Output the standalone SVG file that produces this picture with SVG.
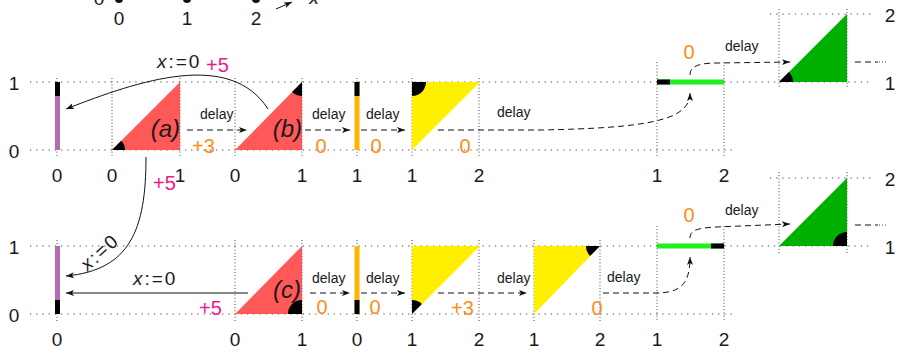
<svg xmlns="http://www.w3.org/2000/svg" width="899" height="347" viewBox="0 0 899 347">
<style>
text{font-family:"Liberation Sans",Arial,sans-serif;fill:#1a1a1a}
.ax{font-size:19px;text-anchor:middle}
.dl{font-size:14px}
.m{font-size:19px}
.or{fill:#ff8c1a;font-size:20px}
.mg{fill:#ee1a8c;font-size:20px}
.lb{font-size:24px;font-style:italic;text-anchor:end}
.it{font-style:italic}
.hd{stroke:#444;stroke-width:1;stroke-dasharray:1.2 5;fill:none}
.vd{stroke:#444;stroke-width:1;stroke-dasharray:1 2.2;fill:none}
.ds{stroke:#111;stroke-width:1;stroke-dasharray:6 4;fill:none}
.sl{stroke:#111;stroke-width:1;fill:none}
.red{fill:#ff5858}
.pur{fill:#b26ab4}
.ora{fill:#ffb300}
.yel{fill:#fff000}
.lg{fill:#1ef01e}
.dg{fill:#00b000}
.blk{fill:#000}
</style>
<defs>
<marker id="ar" markerUnits="userSpaceOnUse" markerWidth="10" markerHeight="8" refX="8" refY="3" orient="auto">
<path d="M0,0 L8,3 L0,6 L2,3 Z" fill="#111"/>
</marker>
</defs>

<!-- grid -->
<g id="grid">
<path class="hd" d="M30,82 H873 M30,150 H735 M770,14 H873 M30,246 H873 M30,314 H735 M770,178 H873"/>
<path class="vd" d="M57,78 V158 M112,78 V158 M180,78 V158 M235,78 V158 M302,78 V158 M357,78 V158 M412,78 V158 M479,78 V158 M657,62 V158 M724,62 V158 M779,9 V89 M847,9 V89"/>
<path class="vd" d="M57,240 V321 M235,240 V321 M302,240 V321 M357,240 V321 M412,240 V321 M479,240 V321 M534,240 V321 M600,240 V321 M657,226 V321 M724,226 V321 M779,172 V253 M847,172 V253"/>
</g>

<!-- top axis fragment -->
<g id="top-axis">
<circle cx="119" cy="-1" r="4" fill="#111"/>
<circle cx="187" cy="-1" r="4" fill="#111"/>
<circle cx="256" cy="-1" r="4" fill="#111"/>
<text class="ax" x="99" y="5">0</text>
<text class="ax" x="119" y="25">0</text>
<text class="ax" x="187" y="25">1</text>
<text class="ax" x="256" y="25">2</text>
<path class="sl" d="M276,9 L292,2" marker-end="url(#ar)"/>
<text class="ax it" x="314" y="4">x</text>
</g>

<!-- top row nodes -->
<g id="purple-top"><rect class="pur" x="55" y="82" width="5" height="68"/><rect class="blk" x="55" y="82" width="5" height="14"/></g>
<g id="tri-a"><path class="red" d="M112,150 L180,150 L180,82 Z"/><path class="blk" d="M112,150 L125,150 A13,13 0 0 0 121.2,140.8 Z"/><text class="lb" x="180" y="137">(a)</text></g>
<g id="tri-b"><path class="red" d="M235,150 L302,150 L302,82 Z"/><path class="blk" d="M302,82 L302,96 A14,14 0 0 1 292.1,91.9 Z"/><text class="lb" x="302" y="137">(b)</text></g>
<g id="orange-top"><rect class="ora" x="354.5" y="82" width="5" height="68"/><rect class="blk" x="354.5" y="82" width="5" height="14"/></g>
<g id="yellow-top"><path class="yel" d="M412,82 L480,82 L412,150 Z"/><path class="blk" d="M412,82 L426,82 A14,14 0 0 1 412,96 Z"/></g>
<g id="green-bar-top"><rect class="lg" x="657" y="79.5" width="67" height="5"/><rect class="blk" x="657" y="79.5" width="13" height="5"/></g>
<g id="green-tri-top"><path class="dg" d="M779,82 L847,82 L847,14 Z"/><path class="blk" d="M779,82 L793,82 A14,14 0 0 0 788.9,72.1 Z"/></g>

<!-- bottom row nodes -->
<g id="purple-bottom"><rect class="pur" x="55" y="246" width="5" height="68"/><rect class="blk" x="55" y="300" width="5" height="14"/></g>
<g id="tri-c"><path class="red" d="M235,314 L302,314 L302,246 Z"/><path class="blk" d="M302,314 L288,314 A14,14 0 0 1 302,300 Z"/><text class="lb" x="301" y="298">(c)</text></g>
<g id="orange-bottom"><rect class="ora" x="354.5" y="246" width="5" height="68"/><rect class="blk" x="354.5" y="300" width="5" height="14"/></g>
<g id="yellow-bottom-1"><path class="yel" d="M412,246 L480,246 L412,314 Z"/><path class="blk" d="M412,314 L412,300 A14,14 0 0 1 421.9,304.1 Z"/></g>
<g id="yellow-bottom-2"><path class="yel" d="M534,246 L600,246 L534,314 Z"/><path class="blk" d="M600,246 L586,246 A14,14 0 0 0 590.1,255.9 Z"/></g>
<g id="green-bar-bottom"><rect class="lg" x="657" y="243.5" width="67" height="5"/><rect class="blk" x="711" y="243.5" width="13" height="5"/></g>
<g id="green-tri-bottom"><path class="dg" d="M779,246 L847,246 L847,178 Z"/><path class="blk" d="M847,246 L833,246 A14,14 0 0 1 847,232 Z"/></g>

<!-- connectors -->
<g id="connectors">
<path class="ds" d="M187,130 L247,130" marker-end="url(#ar)"/>
<path class="ds" d="M305,130 L350,130" marker-end="url(#ar)"/>
<path class="ds" d="M361,130 L405,130" marker-end="url(#ar)"/>
<path class="ds" d="M438,130 L540,130 C650,128 690,120 690,93" marker-end="url(#ar)"/>
<path class="ds" d="M690,75 C690,66 699,63 718,63 L790,62" marker-end="url(#ar)"/>
<path class="ds" d="M855,62 L878,62"/>
<path class="hd" d="M879,62 L886,62" style="stroke-dasharray:1 2"/>
<path class="sl" d="M268,109 C230,50 140,80 66,109" marker-end="url(#ar)"/>
<path class="sl" d="M146,157 C146,230 130,270 66,276" marker-end="url(#ar)"/>
<path class="sl" d="M248,293 L66,293" marker-end="url(#ar)"/>
<path class="ds" d="M310,293 L350,293" marker-end="url(#ar)"/>
<path class="ds" d="M361,293 L405,293" marker-end="url(#ar)"/>
<path class="ds" d="M438,293 L527,293" marker-end="url(#ar)"/>
<path class="ds" d="M603,293 L655,293 C680,293 690,285 690,257" marker-end="url(#ar)"/>
<path class="ds" d="M690,238 C690,230 698,228 716,227 L790,224" marker-end="url(#ar)"/>
<path class="ds" d="M855,225 L878,225"/>
<path class="hd" d="M879,225 L886,225" style="stroke-dasharray:1 2"/>
</g>

<!-- labels top row -->
<g id="labels-top">
<text class="m" x="157" y="68" letter-spacing="2"><tspan class="it">x</tspan>:=0</text>
<text class="mg" x="206" y="72">+5</text>
<text class="dl" x="200" y="119">delay</text>
<text class="or" x="192" y="153">+3</text>
<text class="dl" x="312" y="119">delay</text>
<text class="or" x="321" y="153" text-anchor="middle">0</text>
<text class="dl" x="366" y="119">delay</text>
<text class="or" x="376" y="153" text-anchor="middle">0</text>
<text class="or" x="465" y="153" text-anchor="middle">0</text>
<text class="dl" x="497" y="117">delay</text>
<text class="or" x="689" y="59" text-anchor="middle">0</text>
<text class="dl" x="725" y="51">delay</text>
<text class="ax" x="890" y="22">2</text>
<text class="ax" x="890" y="90">1</text>
<text class="ax" x="14" y="90">1</text>
<text class="ax" x="14" y="158">0</text>
<text class="ax" x="57" y="182">0</text>
<text class="ax" x="112" y="182">0</text>
<text class="ax" x="180" y="182">1</text>
<text class="ax" x="235" y="182">0</text>
<text class="ax" x="302" y="182">1</text>
<text class="ax" x="357" y="182">1</text>
<text class="ax" x="412" y="182">1</text>
<text class="ax" x="479" y="182">2</text>
<text class="ax" x="657" y="182">1</text>
<text class="ax" x="724" y="182">2</text>
<text class="mg" x="153" y="190">+5</text>
</g>

<!-- labels bottom row -->
<g id="labels-bottom">
<text class="m" x="0" y="0" text-anchor="middle" letter-spacing="2" transform="translate(104,257) rotate(-42)"><tspan class="it">x</tspan>:=0</text>
<text class="m" x="133" y="285" letter-spacing="2"><tspan class="it">x</tspan>:=0</text>
<text class="mg" x="199" y="315">+5</text>
<text class="dl" x="312" y="283">delay</text>
<text class="or" x="322" y="314" text-anchor="middle">0</text>
<text class="dl" x="366" y="283">delay</text>
<text class="or" x="375" y="314" text-anchor="middle">0</text>
<text class="or" x="451" y="315">+3</text>
<text class="dl" x="497" y="283">delay</text>
<text class="or" x="597" y="315" text-anchor="middle">0</text>
<text class="dl" x="607" y="282">delay</text>
<text class="or" x="689" y="222" text-anchor="middle">0</text>
<text class="dl" x="725" y="215">delay</text>
<text class="ax" x="890" y="186">2</text>
<text class="ax" x="890" y="254">1</text>
<text class="ax" x="14" y="254">1</text>
<text class="ax" x="14" y="322">0</text>
<text class="ax" x="57" y="346">0</text>
<text class="ax" x="235" y="346">0</text>
<text class="ax" x="302" y="346">1</text>
<text class="ax" x="357" y="346">0</text>
<text class="ax" x="412" y="346">1</text>
<text class="ax" x="479" y="346">2</text>
<text class="ax" x="534" y="346">1</text>
<text class="ax" x="600" y="346">2</text>
<text class="ax" x="657" y="346">1</text>
<text class="ax" x="724" y="346">2</text>
</g>
</svg>
